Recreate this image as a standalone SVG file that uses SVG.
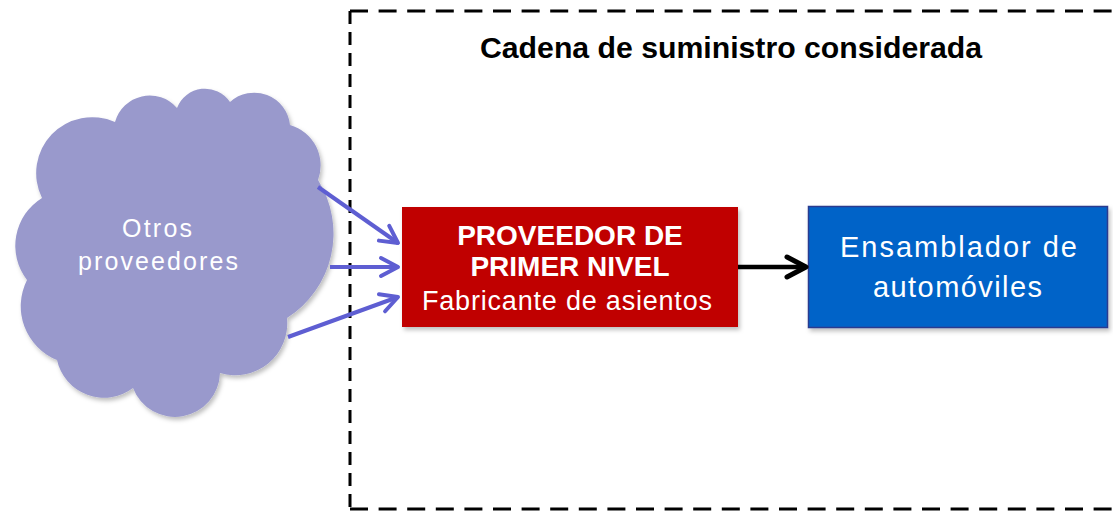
<svg xmlns="http://www.w3.org/2000/svg" width="1113" height="512" viewBox="0 0 1113 512">
  <defs>
    <style>
      .frame { stroke: #000; stroke-width: 3; fill: none; }
      .title { font-family: "Liberation Sans", Arial, sans-serif; font-weight: bold; font-size: 29px; fill: #000; }
      .cloudtxt { font-family: "Liberation Sans", Arial, sans-serif; font-size: 25px; fill: #fff; }
      .boxb { font-family: "Liberation Sans", Arial, sans-serif; font-weight: bold; font-size: 28px; fill: #fff; }
      .boxr { font-family: "Liberation Sans", Arial, sans-serif; font-size: 27px; fill: #fff; }
      .bluetxt { font-family: "Liberation Sans", Arial, sans-serif; font-size: 29px; fill: #fff; }
      .barrow { stroke: #5E5ED2; stroke-width: 4; fill: none; }
      .karrow { stroke: #000; stroke-width: 4.5; fill: none; }
    </style>
    <marker id="headBlue" viewBox="0 0 24 24" refX="21" refY="12" markerWidth="24" markerHeight="24" markerUnits="userSpaceOnUse" orient="auto">
      <path d="M4,3 L21,12 L4,21" fill="none" stroke="#5E5ED2" stroke-width="4" stroke-linecap="round" stroke-linejoin="round"/>
    </marker>
    <marker id="headBlack" viewBox="0 0 26 26" refX="23" refY="13" markerWidth="26" markerHeight="26" markerUnits="userSpaceOnUse" orient="auto">
      <path d="M4,3 L23,13 L4,23" fill="none" stroke="#000" stroke-width="5" stroke-linecap="round" stroke-linejoin="round"/>
    </marker>
    <filter id="shadow" x="-5%" y="-5%" width="112%" height="115%">
      <feDropShadow dx="2" dy="3" stdDeviation="2" flood-color="#000" flood-opacity="0.25"/>
    </filter>
  </defs>

  <g id="frame">
    <line class="frame" x1="350" y1="11" x2="1113" y2="11" stroke-dasharray="18 10.6"/>
    <line class="frame" x1="350" y1="509" x2="1113" y2="509" stroke-dasharray="18 10.6"/>
    <line class="frame" x1="350" y1="11" x2="350" y2="509" stroke-dasharray="13 8"/>
    <text class="title" x="480" y="58" textLength="502" lengthAdjust="spacingAndGlyphs">Cadena de suministro considerada</text>
  </g>

  <g id="cloud">
    <path filter="url(#shadow)" fill="#9999CC" d="M42,198
      A56,56 0 0 1 115,122
      A36,36 0 0 1 177,108
      A30,30 0 0 1 230,102
      A36,36 0 0 1 290,125
      A42,42 0 0 1 318,180
      A100,100 0 0 1 287,318
      A52,52 0 0 1 220,373
      A45,45 0 0 1 133,388
      A48,48 0 0 1 57,360
      A58,58 0 0 1 27,280
      A56,56 0 0 1 42,198 Z"/>
    <text class="cloudtxt" x="122" y="237" textLength="70" lengthAdjust="spacing">Otros</text>
    <text class="cloudtxt" x="78" y="270" textLength="160" lengthAdjust="spacing">proveedores</text>
  </g>

  <g id="proveedor">
    <rect x="402" y="207" width="336" height="120" fill="#C00000" filter="url(#shadow)"/>
    <text class="boxb" x="570" y="245" text-anchor="middle">PROVEEDOR DE</text>
    <text class="boxb" x="570" y="276" text-anchor="middle">PRIMER NIVEL</text>
    <text class="boxr" x="422" y="310" textLength="290" lengthAdjust="spacing">Fabricante de asientos</text>
  </g>

  <g id="ensamblador">
    <rect x="808.5" y="206.5" width="299" height="121" fill="#0563C8" stroke="#2B3A8F" stroke-width="1.5" filter="url(#shadow)"/>
    <text class="bluetxt" x="840" y="257" textLength="237" lengthAdjust="spacing">Ensamblador de</text>
    <text class="bluetxt" x="873" y="297" textLength="169" lengthAdjust="spacing">automóviles</text>
  </g>

  <g id="connectors">
    <line class="barrow" x1="318" y1="187" x2="398" y2="243" marker-end="url(#headBlue)"/>
    <line class="barrow" x1="330" y1="267" x2="398" y2="267" marker-end="url(#headBlue)"/>
    <line class="barrow" x1="288" y1="337" x2="398" y2="297" marker-end="url(#headBlue)"/>
    <line class="karrow" x1="738" y1="267" x2="806" y2="267" marker-end="url(#headBlack)"/>
  </g>
</svg>
